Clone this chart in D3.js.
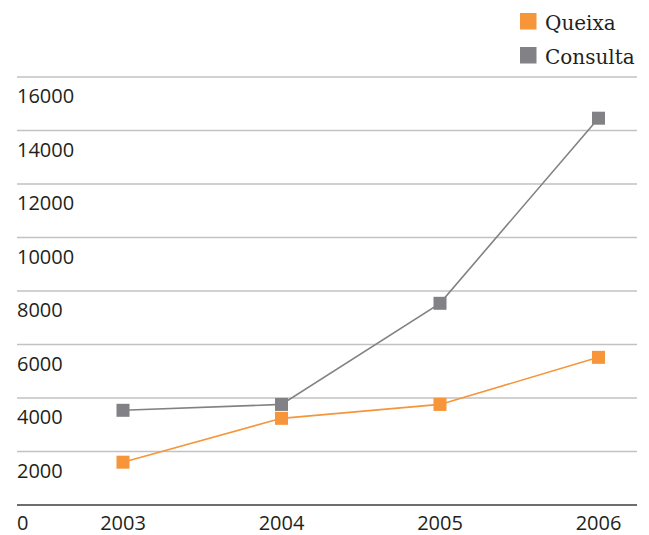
<!DOCTYPE html>
<html>
<head>
<meta charset="utf-8">
<script src="https://cdn.jsdelivr.net/npm/d3@7"></script>
<style>
  html, body { margin: 0; padding: 0; background: #fff; }
  svg { display: block; }
</style>
</head>
<body>
<script>
// Yearly totals of complaints (Queixa) and enquiries (Consulta)
const years = ["2003", "2004", "2005", "2006"];
const queixa = [1600, 3240, 3760, 5520];
const consulta = [3540, 3760, 7540, 14460];
const yTicks = [0, 2000, 4000, 6000, 8000, 10000, 12000, 14000, 16000];
const seriesNames = ["Queixa", "Consulta"];
const seriesColors = ["#f7953a", "#818186"];

const W = 649, H = 535;
const svg = d3.select("body").append("svg").attr("width", W).attr("height", H);

const x = d3.scalePoint().domain(years).range([123, 598.5]);
const y = d3.scaleLinear().domain([0, 16000]).range([505, 77]);

// horizontal gridlines with labels sitting just below each line
const grid = svg.append("g");
grid.selectAll("line").data(yTicks.filter(d => d > 0)).join("line")
  .attr("x1", 17).attr("x2", 637)
  .attr("y1", d => y(d)).attr("y2", d => y(d))
  .attr("stroke", "#c2c2c2").attr("stroke-width", 1.6);

// baseline
svg.append("line")
  .attr("x1", 17).attr("x2", 637)
  .attr("y1", y(0)).attr("y2", y(0))
  .attr("stroke", "#6e6e6e").attr("stroke-width", 2);

const tickFont = "'Open Sans', 'Noto Sans', sans-serif";
svg.append("g").selectAll("text").data(yTicks).join("text")
  .attr("x", 17).attr("y", d => y(d) + (d === 0 ? 25 : 26))
  .attr("font-family", tickFont).attr("font-size", 20)
  .attr("fill", "#231f20")
  .text(d => d);

// x-axis labels
svg.append("g").selectAll("text").data(years).join("text")
  .attr("x", d => x(d)).attr("y", 530)
  .attr("text-anchor", "middle")
  .attr("font-family", tickFont).attr("font-size", 20)
  .attr("fill", "#231f20")
  .text(d => d);

// series lines and square markers
const series = [queixa, consulta];
const line = d3.line().x((d, i) => x(years[i])).y(d => y(d));
const sq = 13;
// draw Consulta first so Queixa sits on top where they meet
[1, 0].forEach(k => {
  const g = svg.append("g");
  g.append("path").datum(series[k])
    .attr("d", line).attr("fill", "none")
    .attr("stroke", seriesColors[k]).attr("stroke-width", 1.6);
  g.selectAll("rect").data(series[k]).join("rect")
    .attr("x", (d, i) => x(years[i]) - sq / 2)
    .attr("y", d => y(d) - sq / 2)
    .attr("width", sq).attr("height", sq)
    .attr("fill", seriesColors[k]);
});

// legend
const legend = svg.append("g");
seriesNames.forEach((name, i) => {
  const ly = 13 + i * 34;
  legend.append("rect")
    .attr("x", 520).attr("y", ly).attr("width", 16.5).attr("height", 16.5)
    .attr("fill", seriesColors[i]);
  legend.append("text")
    .attr("x", 545).attr("y", ly + 17)
    .attr("font-family", "'DejaVu Serif', serif").attr("font-size", 20)
    .attr("fill", "#231f20")
    .text(name);
});
</script>
</body>
</html>
